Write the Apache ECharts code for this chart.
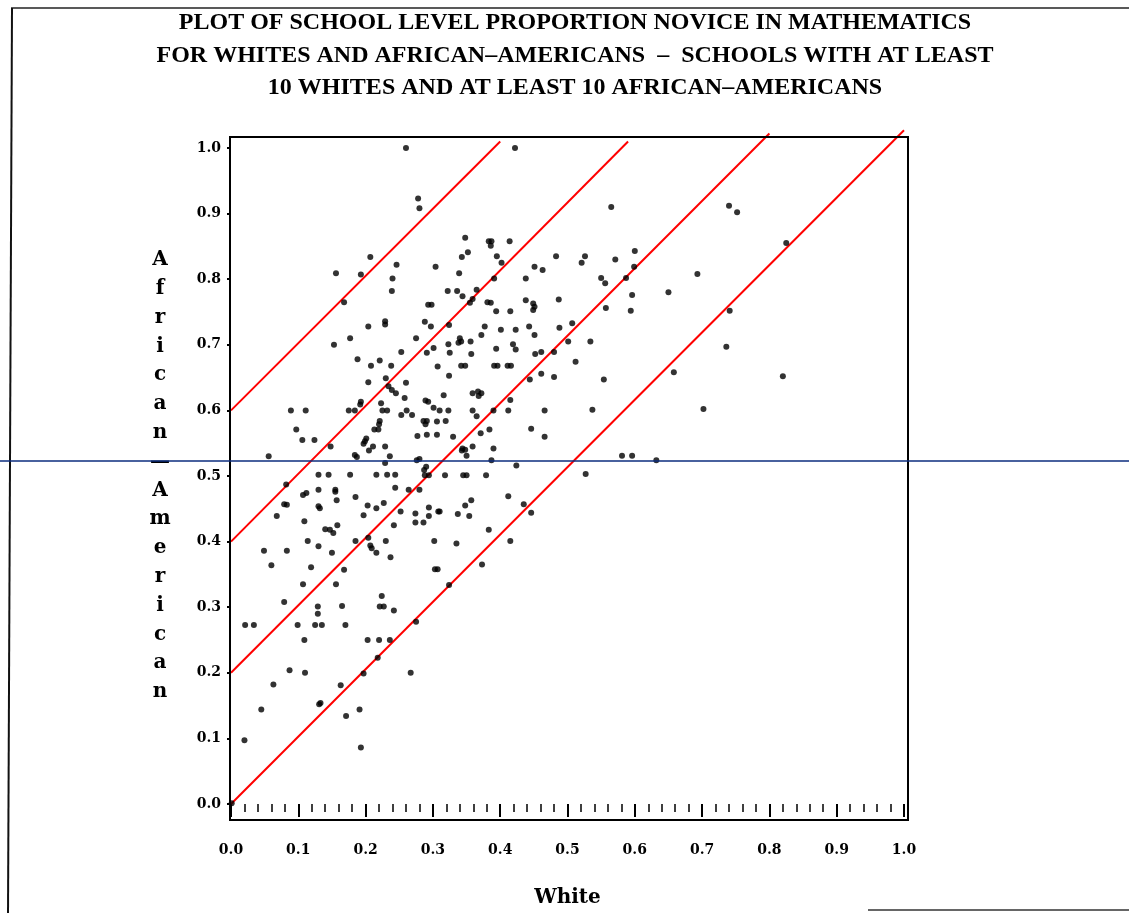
<!DOCTYPE html>
<html>
<head>
<meta charset="utf-8">
<script src="https://cdn.jsdelivr.net/npm/echarts@6/dist/echarts.min.js"></script>
<style>
  html, body { margin: 0; padding: 0; background: #fff; }
  #chart { width: 1129px; height: 913px; }
</style>
</head>
<body>
<div id="chart"></div>
<script>
// school-level proportion novice
const white = [
  0.260, 0.278, 0.280, 0.207, 0.156, 0.193, 0.246, 0.240, 0.239, 0.304,
  0.168, 0.293, 0.298, 0.229, 0.229, 0.204, 0.288, 0.297, 0.153, 0.177,
  0.275, 0.253, 0.291, 0.301, 0.307, 0.188, 0.208, 0.221, 0.238, 0.204,
  0.230, 0.234, 0.239, 0.245, 0.260, 0.258, 0.089, 0.111, 0.175, 0.184,
  0.192, 0.193, 0.223, 0.225, 0.232, 0.221, 0.220, 0.219, 0.213, 0.253,
  0.261, 0.269, 0.289, 0.293, 0.301, 0.310, 0.286, 0.289, 0.291, 0.306,
  0.277, 0.291, 0.306, 0.097, 0.106, 0.124, 0.148, 0.197, 0.199, 0.201,
  0.205, 0.211, 0.229, 0.229, 0.236, 0.184, 0.187, 0.056, 0.276, 0.280,
  0.287, 0.290, 0.082, 0.079, 0.083, 0.068, 0.107, 0.112, 0.130, 0.145,
  0.177, 0.130, 0.155, 0.155, 0.185, 0.130, 0.132, 0.157, 0.109, 0.114,
  0.130, 0.140, 0.147, 0.152, 0.158, 0.150, 0.119, 0.060, 0.049, 0.083,
  0.079, 0.107, 0.168, 0.156, 0.129, 0.129, 0.165, 0.099, 0.125, 0.135,
  0.170, 0.021, 0.034, 0.109, 0.087, 0.110, 0.063, 0.045, 0.020, 0.131,
  0.133, 0.163, 0.171, 0.191, 0.193, 0.197, 0.203, 0.218, 0.220, 0.236,
  0.267, 0.275, 0.224, 0.221, 0.227, 0.242, 0.197, 0.203, 0.185, 0.204,
  0.207, 0.209, 0.216, 0.230, 0.237, 0.242, 0.252, 0.244, 0.216, 0.227,
  0.216, 0.232, 0.244, 0.264, 0.280, 0.274, 0.274, 0.286, 0.294, 0.294,
  0.308, 0.302, 0.303, 0.307, 0.288, 0.294, 0.001, 0.422, 0.565, 0.348,
  0.383, 0.387, 0.386, 0.414, 0.343, 0.352, 0.395, 0.402, 0.339, 0.391,
  0.438, 0.451, 0.463, 0.483, 0.526, 0.521, 0.571, 0.600, 0.599, 0.550,
  0.556, 0.587, 0.596, 0.594, 0.557, 0.322, 0.336, 0.344, 0.365, 0.359,
  0.355, 0.381, 0.386, 0.394, 0.415, 0.438, 0.449, 0.449, 0.451, 0.487,
  0.324, 0.377, 0.372, 0.401, 0.423, 0.443, 0.451, 0.488, 0.507, 0.501,
  0.534, 0.340, 0.338, 0.342, 0.323, 0.325, 0.356, 0.357, 0.394, 0.419,
  0.423, 0.452, 0.461, 0.480, 0.342, 0.348, 0.391, 0.396, 0.411, 0.416,
  0.324, 0.461, 0.480, 0.444, 0.512, 0.554, 0.658, 0.650, 0.693, 0.316,
  0.323, 0.359, 0.367, 0.372, 0.368, 0.359, 0.365, 0.390, 0.415, 0.412,
  0.384, 0.371, 0.390, 0.387, 0.424, 0.446, 0.466, 0.466, 0.537, 0.319,
  0.330, 0.344, 0.343, 0.348, 0.350, 0.359, 0.318, 0.345, 0.350, 0.379,
  0.527, 0.581, 0.596, 0.632, 0.310, 0.337, 0.348, 0.357, 0.354, 0.412,
  0.435, 0.446, 0.383, 0.335, 0.415, 0.373, 0.324, 0.740, 0.752, 0.825,
  0.741, 0.736, 0.820, 0.702
];
const africanAmerican = [
  1.000, 0.923, 0.908, 0.834, 0.809, 0.807, 0.822, 0.801, 0.782, 0.819,
  0.765, 0.761, 0.761, 0.736, 0.731, 0.728, 0.735, 0.728, 0.700, 0.710,
  0.710, 0.689, 0.688, 0.695, 0.667, 0.678, 0.668, 0.676, 0.668, 0.643,
  0.649, 0.637, 0.631, 0.626, 0.642, 0.619, 0.600, 0.600, 0.600, 0.600,
  0.609, 0.613, 0.611, 0.600, 0.600, 0.584, 0.579, 0.571, 0.571, 0.593,
  0.600, 0.593, 0.615, 0.613, 0.604, 0.600, 0.584, 0.579, 0.584, 0.583,
  0.561, 0.563, 0.563, 0.571, 0.555, 0.555, 0.545, 0.549, 0.553, 0.557,
  0.539, 0.545, 0.545, 0.520, 0.530, 0.532, 0.529, 0.530, 0.524, 0.526,
  0.509, 0.514, 0.487, 0.457, 0.456, 0.439, 0.471, 0.474, 0.502, 0.502,
  0.502, 0.479, 0.479, 0.476, 0.468, 0.454, 0.451, 0.463, 0.431, 0.401,
  0.393, 0.419, 0.418, 0.413, 0.425, 0.383, 0.361, 0.364, 0.386, 0.386,
  0.308, 0.335, 0.357, 0.335, 0.301, 0.290, 0.302, 0.273, 0.273, 0.273,
  0.273, 0.273, 0.273, 0.250, 0.204, 0.200, 0.182, 0.144, 0.097, 0.152,
  0.154, 0.181, 0.134, 0.144, 0.086, 0.199, 0.250, 0.223, 0.250, 0.250,
  0.200, 0.278, 0.317, 0.301, 0.301, 0.295, 0.440, 0.455, 0.401, 0.406,
  0.394, 0.390, 0.383, 0.401, 0.376, 0.425, 0.446, 0.482, 0.451, 0.459,
  0.502, 0.502, 0.502, 0.479, 0.479, 0.443, 0.429, 0.429, 0.439, 0.452,
  0.446, 0.401, 0.358, 0.358, 0.501, 0.501, 0.001, 1.000, 0.910, 0.863,
  0.858, 0.858, 0.851, 0.858, 0.834, 0.841, 0.835, 0.825, 0.809, 0.801,
  0.801, 0.819, 0.814, 0.835, 0.835, 0.825, 0.830, 0.843, 0.819, 0.802,
  0.794, 0.802, 0.776, 0.752, 0.756, 0.782, 0.782, 0.774, 0.784, 0.770,
  0.764, 0.765, 0.764, 0.751, 0.751, 0.768, 0.763, 0.753, 0.758, 0.769,
  0.730, 0.728, 0.715, 0.723, 0.723, 0.728, 0.715, 0.726, 0.733, 0.705,
  0.705, 0.710, 0.703, 0.705, 0.701, 0.688, 0.705, 0.686, 0.694, 0.701,
  0.693, 0.686, 0.689, 0.689, 0.668, 0.668, 0.668, 0.668, 0.668, 0.668,
  0.653, 0.656, 0.651, 0.647, 0.674, 0.647, 0.658, 0.780, 0.808, 0.623,
  0.600, 0.626, 0.629, 0.626, 0.622, 0.600, 0.591, 0.600, 0.616, 0.600,
  0.571, 0.565, 0.542, 0.524, 0.516, 0.572, 0.560, 0.600, 0.601, 0.584,
  0.560, 0.542, 0.539, 0.540, 0.531, 0.545, 0.501, 0.501, 0.501, 0.501,
  0.503, 0.531, 0.531, 0.524, 0.446, 0.442, 0.455, 0.463, 0.439, 0.469,
  0.457, 0.444, 0.418, 0.397, 0.401, 0.365, 0.334, 0.912, 0.902, 0.855,
  0.752, 0.697, 0.652, 0.602
];

// red reference lines, start and end points as drawn
const refLineStart = [[0, 0.6], [0, 0.4], [0, 0.2], [0, 0.0]];
const refLineEnd = [[0.40, 1.010], [0.59, 1.010], [0.80, 1.022], [1.0, 1.027]];

const titleLines = [
  'PLOT OF SCHOOL LEVEL PROPORTION NOVICE IN MATHEMATICS',
  'FOR WHITES AND AFRICAN\u2013AMERICANS  \u2013  SCHOOLS WITH AT LEAST',
  '10 WHITES AND AT LEAST 10 AFRICAN\u2013AMERICANS'
];
const yTitle = 'African\u2014American';
const xTitle = 'White';

const chart = echarts.init(document.getElementById('chart'));

const points = white.map((w, i) => [w, africanAmerican[i]]);
const lineSeries = refLineStart.map((s, i) => ({
  type: 'line',
  data: [s, refLineEnd[i]],
  showSymbol: false,
  clip: false,
  silent: true,
  lineStyle: { color: '#ff0000', width: 2 },
  z: 3
}));

const tickFont = {
  fontFamily: 'DejaVu Serif',
  fontWeight: 'bold',
  fontSize: 14,
  color: '#000'
};

chart.setOption({
  animation: false,
  backgroundColor: '#fff',
  title: {
    text: titleLines.join('\n'),
    left: 570,
    top: 2,
    textAlign: 'center',
    textStyle: {
      fontFamily: 'Liberation Serif',
      fontWeight: 'bold',
      fontSize: 24,
      lineHeight: 32.5,
      color: '#000'
    }
  },
  grid: { left: 231, top: 148, width: 673, height: 662 },
  xAxis: {
    type: 'value',
    min: 0,
    max: 1,
    interval: 0.1,
    offset: 10,
    axisLine: { show: false },
    axisTick: { show: true, length: 13, lineStyle: { color: '#000', width: 2 } },
    minorTick: { show: true, splitNumber: 5, length: 8, lineStyle: { color: '#000', width: 1.5 } },
    splitLine: { show: false },
    axisLabel: Object.assign({ margin: 29, formatter: v => v.toFixed(1) }, tickFont),
    name: xTitle,
    nameLocation: 'middle',
    nameGap: 74,
    nameTextStyle: { fontFamily: 'DejaVu Serif', fontWeight: 'bold', fontSize: 20, color: '#000' }
  },
  yAxis: {
    type: 'value',
    min: 0,
    max: 1,
    interval: 0.1,
    offset: 1,
    axisLine: { show: false },
    axisTick: { show: true, length: 4, lineStyle: { color: '#000', width: 2 } },
    splitLine: { show: false },
    axisLabel: Object.assign({ margin: 9, formatter: v => v.toFixed(1) }, tickFont),
    name: yTitle.split('').join('\n'),
    nameLocation: 'middle',
    nameRotate: 0,
    nameGap: 70,
    nameTextStyle: {
      fontFamily: 'DejaVu Serif',
      fontWeight: 'bold',
      fontSize: 20,
      lineHeight: 28.8,
      align: 'center',
      verticalAlign: 'middle',
      color: '#000'
    }
  },
  series: [
    {
      type: 'scatter',
      data: points,
      symbol: 'circle',
      symbolSize: 6,
      itemStyle: { color: '#000' },
      clip: false,
      z: 4
    }
  ].concat(lineSeries),
  graphic: [
    // plot frame
    { type: 'rect', shape: { x: 230, y: 137, width: 678, height: 683 },
      style: { fill: 'none', stroke: '#000', lineWidth: 2 }, z: 5 },
    // scanned page border
    { type: 'line', shape: { x1: 11, y1: 8, x2: 1129, y2: 8 },
      style: { stroke: '#222', lineWidth: 1.5 }, z: 5 },
    { type: 'line', shape: { x1: 12, y1: 8, x2: 8, y2: 913 },
      style: { stroke: '#111', lineWidth: 2 }, z: 5 },
    { type: 'line', shape: { x1: 868, y1: 910, x2: 1129, y2: 910 },
      style: { stroke: '#333', lineWidth: 1.5 }, z: 5 },
    // blue horizontal rule across the page
    { type: 'line', shape: { x1: 0, y1: 461, x2: 1129, y2: 461 },
      style: { stroke: '#0b2d7e', lineWidth: 1.5 }, z: 10 }
  ]
});
</script>
</body>
</html>
